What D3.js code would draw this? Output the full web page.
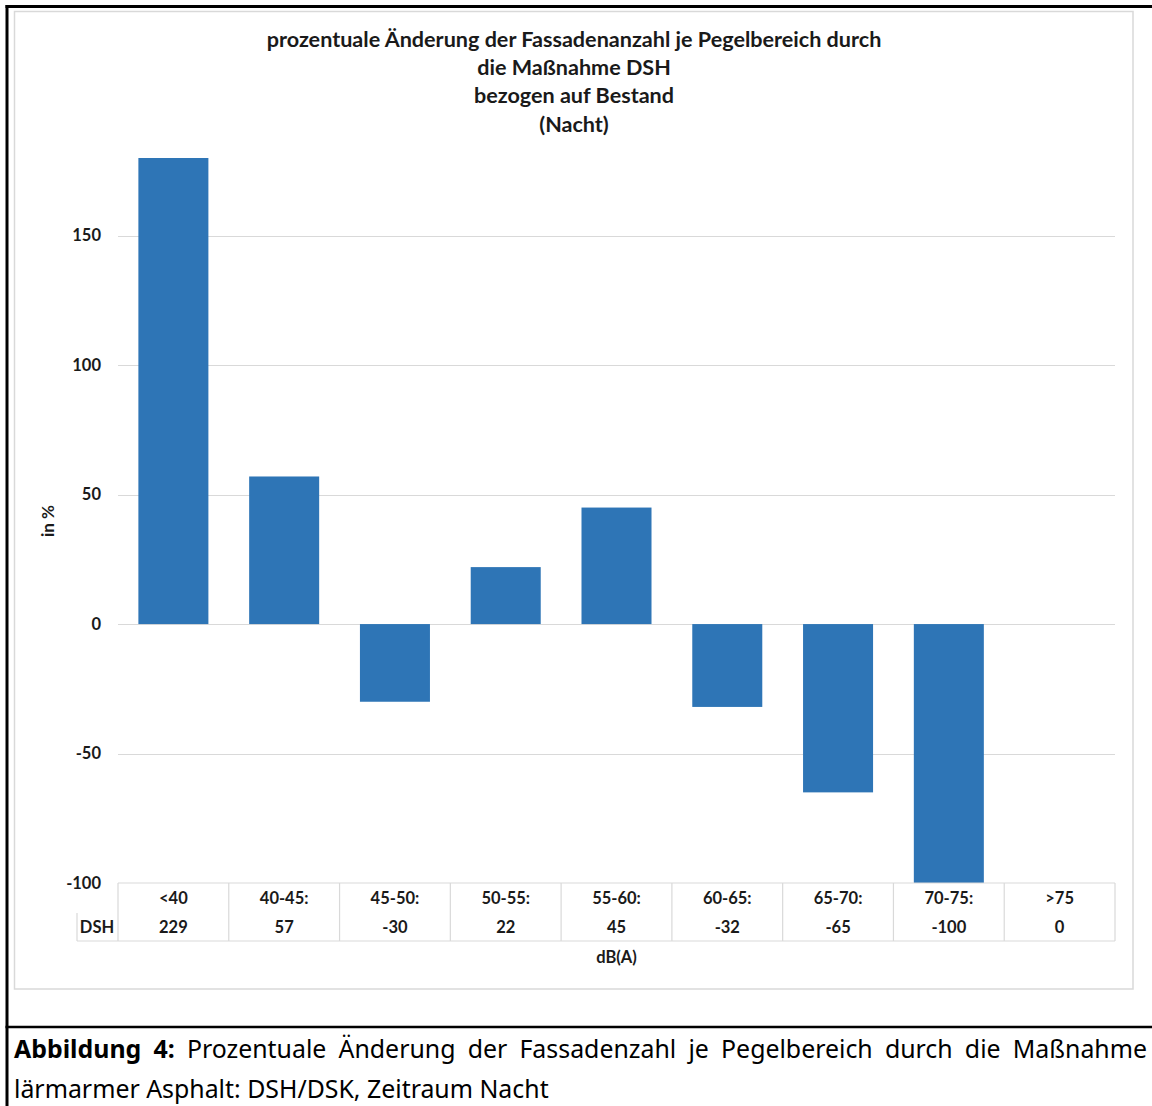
<!DOCTYPE html>
<html>
<head>
<meta charset="utf-8">
<script src="https://cdn.jsdelivr.net/npm/d3@7"></script>
<style>
  html, body { margin: 0; padding: 0; background: #fff; }
  svg { display: block; }
</style>
</head>
<body>
<svg id="chart" width="1152" height="1106"></svg>
<script>
// ---- data ----
const categories = ["<40", "40-45:", "45-50:", "50-55:", "55-60:", "60-65:", "65-70:", "70-75:", ">75"];
const seriesName = "DSH";
const values = [229, 57, -30, 22, 45, -32, -65, -100, 0];
const yTicks = [-100, -50, 0, 50, 100, 150];
const yDomain = [-100, 180];
const titleLines = ["prozentuale Änderung der Fassadenanzahl je Pegelbereich durch", "die Maßnahme DSH", "bezogen auf Bestand", "(Nacht)"];
const yAxisTitle = "in %";
const xAxisTitle = "dB(A)";
const captionBold = ["Abbildung", "4:"];
const captionLine1 = ["Prozentuale", "Änderung", "der", "Fassadenzahl", "je", "Pegelbereich", "durch", "die", "Maßnahme"];
const captionLine2 = "lärmarmer Asphalt: DSH/DSK, Zeitraum Nacht";

// ---- layout ----
const svg = d3.select("#chart");
const W = 1152, H = 1106;
const plot = { left: 118, right: 1115, top: 158, bottom: 883 };
const font = "Lato, 'Open Sans', sans-serif";
const capFont = "'Noto Sans', 'Open Sans', sans-serif";
const barColor = "#2E75B6";
const gridColor = "#d9d9d9";
const textColor = "#1a1a1a";

// outer frame
svg.append("rect").attr("x", 0).attr("y", 0).attr("width", W).attr("height", H).attr("fill", "#fff");
svg.append("line").attr("x1", 7).attr("x2", 7).attr("y1", 5).attr("y2", H).attr("stroke", "#000").attr("stroke-width", 3);
svg.append("line").attr("x1", 5.5).attr("x2", W).attr("y1", 6.5).attr("y2", 6.5).attr("stroke", "#000").attr("stroke-width", 3);
svg.append("line").attr("x1", 5.5).attr("x2", W).attr("y1", 1027).attr("y2", 1027).attr("stroke", "#000").attr("stroke-width", 2.5);

// chart area box
svg.append("rect").attr("x", 14.5).attr("y", 11.5).attr("width", 1118.5).attr("height", 977.5)
  .attr("fill", "#fff").attr("stroke", "#d9d9d9").attr("stroke-width", 1.5);

// scales
const x = d3.scaleBand().domain(categories).range([plot.left, plot.right]).paddingInner(0.368).paddingOuter(0.184);
const y = d3.scaleLinear().domain(yDomain).range([plot.bottom, plot.top]);
const step = x.step();

// gridlines
svg.append("g").selectAll("line").data(yTicks.filter(t => t !== yDomain[0])).join("line")
  .attr("x1", plot.left).attr("x2", plot.right)
  .attr("y1", d => Math.round(y(d)) + 0.5).attr("y2", d => Math.round(y(d)) + 0.5)
  .attr("stroke", gridColor).attr("stroke-width", 1);

// y axis labels
const yAxis = d3.axisLeft(y).tickValues(yTicks).tickSize(0).tickPadding(0).tickFormat(d => String(d));
const gy = svg.append("g").attr("transform", `translate(101,0)`).call(yAxis);
gy.select(".domain").remove();
gy.selectAll("text").attr("font-family", font).attr("font-weight", "bold").attr("font-size", 16.5).attr("fill", textColor);

// clip
svg.append("clipPath").attr("id", "plotclip").append("rect")
  .attr("x", plot.left).attr("y", plot.top).attr("width", plot.right - plot.left).attr("height", plot.bottom - plot.top);

// bars
svg.append("g").attr("clip-path", "url(#plotclip)").selectAll("rect").data(values).join("rect")
  .attr("x", (d, i) => x(categories[i]))
  .attr("width", x.bandwidth())
  .attr("y", d => y(Math.min(yDomain[1], Math.max(d, 0))))
  .attr("height", d => Math.abs(y(Math.min(yDomain[1], d)) - y(0)))
  .attr("fill", barColor);

// data table
const tTop = 883, tMid = 913, tBot = 941, tLeft = 77;
const tg = svg.append("g").attr("stroke", gridColor).attr("stroke-width", 1.2);
tg.append("line").attr("x1", plot.left).attr("x2", plot.right).attr("y1", tTop).attr("y2", tTop);
tg.append("line").attr("x1", tLeft).attr("x2", plot.right).attr("y1", tBot).attr("y2", tBot);
tg.append("line").attr("x1", tLeft).attr("x2", tLeft).attr("y1", tMid).attr("y2", tBot);
tg.selectAll(".v").data(d3.range(categories.length + 1)).join("line")
  .attr("x1", i => plot.left + i * step).attr("x2", i => plot.left + i * step)
  .attr("y1", tTop).attr("y2", tBot);

const tt = svg.append("g").attr("font-family", font).attr("font-weight", "bold").attr("font-size", 16.5)
  .attr("fill", textColor).attr("text-anchor", "middle").attr("dominant-baseline", "central");
tt.selectAll(".h").data(categories).join("text")
  .attr("x", d => x(d) + x.bandwidth() / 2).attr("y", 898).text(d => d);
tt.selectAll(".vv").data(values).join("text")
  .attr("x", (d, i) => x(categories[i]) + x.bandwidth() / 2).attr("y", 927).text(d => d);
tt.append("text").attr("x", 97).attr("y", 927).text(seriesName);
tt.append("text").attr("x", plot.left + (plot.right - plot.left) / 2).attr("y", 957).text(xAxisTitle);

// y axis title
svg.append("text").attr("transform", "translate(47,521) rotate(-90)")
  .attr("font-family", font).attr("font-weight", "bold").attr("font-size", 17).attr("fill", textColor)
  .attr("text-anchor", "middle").attr("dominant-baseline", "central").text(yAxisTitle);

// title
const title = svg.append("g").attr("font-family", font).attr("font-weight", "bold").attr("fill", textColor)
  .attr("text-anchor", "middle").attr("dominant-baseline", "central");
const tLines = title.selectAll("text").data(titleLines).join("text")
  .attr("x", 574).attr("y", (d, i) => 39 + i * 28.2).attr("font-size", 20).text(d => d);
const w0 = tLines.nodes()[0].getComputedTextLength();
const tfs = 20 * 615 / w0;
tLines.attr("font-size", tfs);

// caption
const cap = svg.append("g").attr("font-family", capFont).attr("fill", "#000");
const capSize = 24;
const line1Words = captionBold.map(w => ({ w, b: true })).concat(captionLine1.map(w => ({ w, b: false })));
const l2 = cap.append("text").attr("x", 14).attr("y", 1098).attr("font-size", capSize).text(captionLine2);
const l2w = l2.node().getComputedTextLength();
const cs = capSize * 535 / l2w;
l2.attr("font-size", cs);
const wnodes = cap.selectAll(".w").data(line1Words).join("text")
  .attr("y", 1058).attr("font-size", cs).attr("font-weight", d => d.b ? "bold" : "normal").text(d => d.w);
const widths = wnodes.nodes().map(n => n.getComputedTextLength());
const total = d3.sum(widths);
const gap = (1147 - 14 - total) / (line1Words.length - 1);
let cx = 14;
wnodes.each(function (d, i) { d3.select(this).attr("x", cx); cx += widths[i] + gap; });
</script>
</body>
</html>
